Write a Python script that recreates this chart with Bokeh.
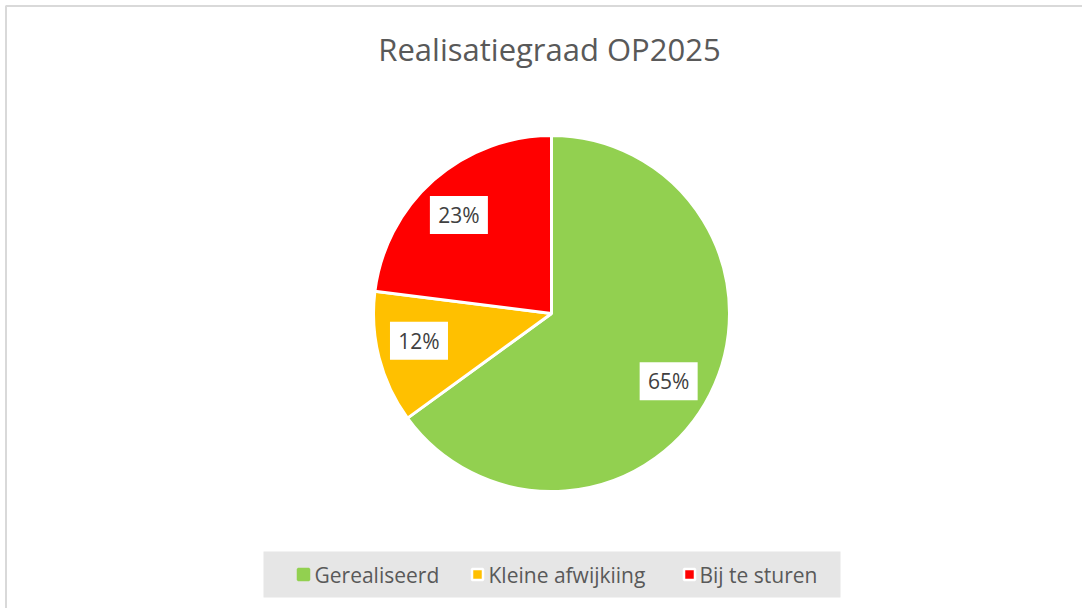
import numpy as np
from bokeh.plotting import figure
from bokeh.models import Range1d, ColumnDataSource
from bokeh.embed import file_html
from bokeh.resources import INLINE
from bokeh.core.properties import value

# ---- data ----
categories = ["Gerealiseerd", "Kleine afwijkiing", "Bij te sturen"]
percentages = [65, 12, 23]
colors = ["#92D050", "#FFC000", "#FF0000"]
title_text = "Realisatiegraad OP2025"

# ---- layout (screen px, y measured from top) ----
W, H = 1082, 608
FONT = "Open Sans"
CX, CY, R = 551, 313, 178
LABEL_FR = 0.76
label_angle_adjust_deg = [-3.0, -2.8, 1.8]
legend_marker_x = [303, 477, 689]
legend_text_x = [314, 488, 699]
legend_y = 574

def Y(v):
    return H - v

p = figure(width=W, height=H, x_range=Range1d(0, W), y_range=Range1d(0, H),
           output_backend="svg", toolbar_location=None, min_border=0,
           x_axis_location=None, y_axis_location=None)
p.grid.visible = False
p.outline_line_color = None
p.background_fill_color = "white"
p.border_fill_color = "white"

# chart area border
p.line(x=[5.5, 5.5, W], y=[0, Y(5.5), Y(5.5)], line_color="#d9d9d9", line_width=2)

# title
p.text(x=[549], y=[Y(48)], text=[title_text], text_font=value(FONT),
       text_font_size="31px", text_color="#595959", text_align="center",
       text_baseline="middle")

# pie
fr = np.array(percentages, dtype=float) / sum(percentages)
cum = np.concatenate([[0.0], np.cumsum(fr)])
end_a = np.pi / 2 - 2 * np.pi * cum[:-1]
start_a = np.pi / 2 - 2 * np.pi * cum[1:]
src = ColumnDataSource(dict(start=start_a, end=end_a, color=colors, cat=categories))
p.wedge(x=CX, y=Y(CY), radius=R, start_angle="start", end_angle="end",
        direction="anticlock", fill_color="color", line_color="white",
        line_width=3, source=src)

# data labels
mid = (start_a + end_a) / 2 + np.deg2rad(label_angle_adjust_deg)
lx = CX + LABEL_FR * R * np.cos(mid)
ly = Y(CY) + LABEL_FR * R * np.sin(mid)
p.rect(x=lx, y=ly, width=58, height=38, fill_color="white", line_color=None)
p.text(x=lx, y=ly, text=[f"{v}%" for v in percentages], text_font=value(FONT),
       text_font_size="21px", text_color="#404040", text_align="center",
       text_baseline="middle")

# legend
p.quad(left=263, right=840, top=Y(551), bottom=Y(597), fill_color="#e6e6e6",
       line_color=None)
p.rect(x=legend_marker_x, y=[Y(legend_y)] * 3, width=11, height=11,
       fill_color=colors, line_color=[colors[0], "white", "white"], line_width=2.5)
p.text(x=legend_text_x, y=[Y(legend_y)] * 3, text=categories,
       text_font=value(FONT), text_font_size="21px", text_color="#595959",
       text_align="left", text_baseline="middle")

open("out.html", "w").write(file_html(p, INLINE))
